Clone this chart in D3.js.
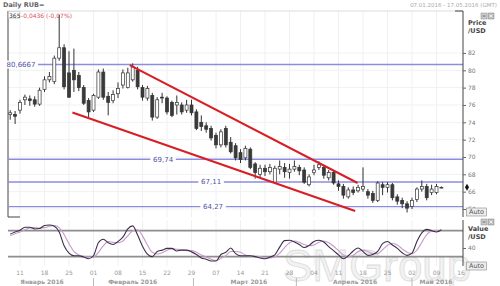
<!DOCTYPE html>
<html>
<head>
<meta charset="utf-8">
<script src="https://cdn.jsdelivr.net/npm/d3@7"></script>
<style>
  body { margin: 0; background: #fff; }
  svg { display: block; font-family: "DejaVu Sans", Verdana, sans-serif; }
</style>
</head>
<body>
<svg id="chart" width="500" height="286"></svg>
<script>
// trading day index 0 = 07.01.2016 (weekdays only)
var openVals = [74.9,74.9,75.4,76.6,76.7,76.6,76.1,77.8,78.9,78.7,
  81.4,82.6,79.7,80.0,79.4,78.0,76.5,75.4,76.9,79.8,
  77.0,76.5,77.3,78.3,78.0,78.9,80.0,78.0,76.8,77.1,
  74.6,76.9,76.8,76.3,76.0,76.0,75.4,76.0,75.2,74.0,
  73.6,73.3,72.5,71.4,73.3,71.7,71.3,70.5,69.9,70.9,
  69.2,68.0,68.7,68.3,67.1,68.6,68.8,68.2,68.6,68.8,
  68.5,66.8,68.2,68.8,68.8,67.6,68.2,66.9,66.6,65.4,
  66.2,66.1,66.3,66.0,65.8,65.0,66.8,66.5,66.8,65.4,
  65.0,64.6,64.3,65.1,66.3,66.6,65.9,65.9,66.5];
var highVals = [75.4,75.3,76.6,77.2,77.1,77.0,78.0,79.3,79.8,81.7,
  86.4,83.0,82.2,82.5,79.8,78.3,76.8,77.3,80.1,80.2,
  77.5,77.7,78.6,80.1,80.3,80.8,80.4,78.3,78.2,77.4,
  76.9,77.4,77.0,76.5,77.1,76.3,76.6,76.6,75.5,74.8,
  74.0,73.6,72.8,73.2,73.6,72.3,71.6,70.9,71.3,71.1,
  69.4,69.1,69.1,69.2,69.0,69.6,69.3,69.2,69.6,69.1,
  68.8,68.0,69.1,69.5,69.0,68.5,68.4,67.3,66.9,66.5,
  66.6,66.8,68.8,66.3,66.1,67.2,67.1,67.1,67.0,65.7,
  65.3,64.9,65.3,66.5,67.3,66.9,66.8,66.9,66.6];
var lowVals = [74.3,73.8,75.0,76.0,75.9,75.8,75.9,77.5,78.6,78.4,
  81.1,77.8,76.8,77.5,77.6,76.0,74.6,75.2,76.7,76.6,
  74.8,76.2,76.8,77.9,77.9,78.7,77.8,76.5,76.5,74.2,
  74.4,76.2,74.9,74.6,74.9,74.9,75.1,74.8,73.1,73.0,
  72.8,71.9,71.0,71.1,71.1,70.4,69.6,69.3,69.6,68.6,
  67.5,67.7,67.8,68.0,66.9,68.0,67.6,67.5,68.3,67.9,
  66.9,66.6,67.9,68.5,67.5,67.3,66.8,66.1,65.2,65.2,
  65.6,65.9,66.0,65.2,64.7,64.8,65.6,65.9,65.0,64.5,
  64.1,63.6,64.0,64.8,66.0,65.0,65.6,65.7,66.4];
var closeVals = [75.1,74.7,76.3,76.9,76.5,76.1,77.7,78.9,79.3,81.4,
  82.6,78.1,76.9,78.9,78.0,76.2,75.2,77.1,79.8,76.9,
  76.3,77.2,77.9,79.7,79.7,80.4,78.1,76.9,77.9,74.6,
  76.6,76.8,75.2,74.8,76.3,75.2,76.0,75.1,73.3,73.5,
  73.2,72.2,71.4,72.9,71.4,70.6,69.9,69.7,71.0,68.8,
  68.2,68.7,68.3,68.8,68.7,68.9,68.3,68.6,68.9,68.4,
  67.1,67.7,68.5,69.1,67.9,68.2,67.0,66.6,65.6,66.2,
  65.9,66.5,66.6,65.6,65.0,67.0,66.5,66.8,65.3,64.9,
  64.6,64.1,65.0,66.3,66.6,65.3,66.3,66.6,66.5];

// stochastic oscillator (%K dark, %D light)
var stochK = [72,77,81,88,88,84,85,92,93,90,
  77,45,28,22,22,19,15,22,52,60,
  52,48,55,65,84,91,70,44,26,20,
  32,35,39,39,33,35,35,31,25,17,
  14,10,10,25,30,40,27,22,22,22,
  20,17,15,19,24,42,57,58,54,48,
  41,46,55,58,54,43,34,24,15,22,
  33,40,32,23,25,32,50,55,47,39,
  29,23,28,55,75,83,80,77,82];
var stochD = [68,73,77,82,86,87,86,87,90,92,
  87,71,50,32,24,21,19,19,30,45,
  55,53,52,56,68,80,82,68,47,30,
  26,29,35,38,37,36,34,34,30,24,
  19,14,11,16,22,32,32,30,24,22,
  21,20,17,17,19,28,41,52,56,53,
  48,45,47,53,56,52,44,34,24,20,
  23,32,35,32,27,27,36,46,51,47,
  38,30,27,35,53,71,79,80,80];

// weekly ticks (Mondays) as trading-day index
var tickIndex = [2,7,12,17,22,27,32,37,42,47,52,57,62,67,72,77,82,87,92];
var tickLabels = ["11","18","25","01","08","15","22","29","07","14","21","28","04","11","18","25","02","09","16"];
var monthLabels = ["Январь 2016","Февраль 2016","Март 2016","Апрель 2016","Май 2016"];
var monthAt = [6.5, 25, 48.7, 70.4, 86.9];
var monthStart = [17, 37.4, 58.4, 82];

var priceTicks = [82,80,78,76,74,72,70,68,66,64];
var levelVals = [80.6667, 69.74, 67.11, 64.27];
var levelLabels = ["80,6667","69,74","67,11","64,27"];
var levelLabelAt = [2.2, 31.2, 41, 41.4];

var upperTrend = [[24.4, 80.6], [70.9, 67.0]];
var lowerTrend = [[12.7, 75.13], [70.4, 63.77]];

var stochLevels = [80, 20];
var stochTicks = [40];

var svg = d3.select("#chart");

var panel = { left: 8, right: 463, top: 11, bottom: 217 };
var lower = { top: 220, bottom: 266 };

var xScale = d3.scaleLinear().domain([0, 92]).range([10.2, 461]);
var yScale = d3.scaleLinear().domain([80, 64]).range([70.3, 209]);
var sScale = d3.scaleLinear().domain([0, 100]).range([265.3, 222]);

// header
svg.append("text").attr("x", 3).attr("y", 7).attr("font-size", 6.5)
  .attr("font-weight", "bold").attr("fill", "#666").text("Daily RUB=");
svg.append("text").attr("x", 497).attr("y", 7).attr("font-size", 5.5)
  .attr("text-anchor", "end").attr("fill", "#aaa").text("07.01.2016 - 17.05.2016 (GMT)");

// grid
var grid = svg.append("g");
grid.selectAll(".vg").data(tickIndex.filter(d => d < 92)).enter().append("line")
  .attr("x1", d => xScale(d)).attr("x2", d => xScale(d))
  .attr("y1", panel.top).attr("y2", panel.bottom)
  .attr("stroke", "#eef0f3").attr("stroke-width", 1);
grid.selectAll(".hg").data(priceTicks).enter().append("line")
  .attr("x1", panel.left).attr("x2", panel.right)
  .attr("y1", d => yScale(d)).attr("y2", d => yScale(d))
  .attr("stroke", "#f1f1f1").attr("stroke-width", 1);
grid.selectAll(".vg2").data(tickIndex.filter(d => d < 92)).enter().append("line")
  .attr("x1", d => xScale(d)).attr("x2", d => xScale(d))
  .attr("y1", lower.top).attr("y2", lower.bottom)
  .attr("stroke", "#eef0f3").attr("stroke-width", 1);

// frames
svg.append("line").attr("x1", panel.left).attr("x2", panel.right)
  .attr("y1", panel.top).attr("y2", panel.top).attr("stroke", "#ddd");
svg.append("line").attr("x1", panel.left).attr("x2", panel.left)
  .attr("y1", panel.top).attr("y2", panel.bottom).attr("stroke", "#444");
svg.append("line").attr("x1", panel.left).attr("x2", panel.left + 12)
  .attr("y1", panel.bottom).attr("y2", panel.bottom).attr("stroke", "#444");
svg.append("line").attr("x1", panel.right - 8).attr("x2", panel.right)
  .attr("y1", panel.top).attr("y2", panel.top).attr("stroke", "#444");

// current-quote text
svg.append("rect").attr("x", 8.5).attr("y", 11.5).attr("width", 11).attr("height", 7)
  .attr("fill", "#fff").attr("stroke", "#bbb").attr("stroke-width", 0.5);
svg.append("text").attr("x", 9).attr("y", 17.5).attr("font-size", 6).attr("fill", "#333").text("365");
svg.append("text").attr("x", 21).attr("y", 17.5).attr("font-size", 6).attr("fill", "#e0505a")
  .text("-0,0436 (-0,07%)");

// level lines
var levels = svg.append("g");
levels.selectAll("line").data(levelVals).enter().append("line")
  .attr("x1", panel.left).attr("x2", panel.right)
  .attr("y1", d => yScale(d)).attr("y2", d => yScale(d))
  .attr("stroke", "#8c8ce0").attr("stroke-width", 1.4);
levelVals.forEach(function(v, i) {
  var cx = xScale(levelLabelAt[i]);
  var w = levelLabels[i].length * 4.3 + 4;
  levels.append("rect").attr("x", cx - w / 2).attr("y", yScale(v) - 4)
    .attr("width", w).attr("height", 8).attr("fill", "#fff");
  levels.append("text").attr("x", cx).attr("y", yScale(v) + 2.4)
    .attr("text-anchor", "middle").attr("font-size", 7).attr("fill", "#5050a8")
    .text(levelLabels[i]);
});

// candles
var candles = svg.append("g").selectAll("g").data(openVals).enter().append("g");
candles.append("line")
  .attr("x1", (d, i) => xScale(i)).attr("x2", (d, i) => xScale(i))
  .attr("y1", (d, i) => yScale(highVals[i])).attr("y2", (d, i) => yScale(lowVals[i]))
  .attr("stroke", "#333").attr("stroke-width", 1);
candles.append("rect")
  .attr("x", (d, i) => xScale(i) - 1.5)
  .attr("y", (d, i) => yScale(Math.max(d, closeVals[i])))
  .attr("width", 3)
  .attr("height", (d, i) => Math.max(0.8, Math.abs(yScale(d) - yScale(closeVals[i]))))
  .attr("fill", (d, i) => closeVals[i] >= d ? "#fff" : "#3a3a3a")
  .attr("stroke", "#333").attr("stroke-width", 0.7);

// trend lines
var trendLine = d3.line().x(d => xScale(d[0])).y(d => yScale(d[1]));
[upperTrend, lowerTrend].forEach(function(t) {
  svg.append("path").attr("d", trendLine(t)).attr("fill", "none")
    .attr("stroke", "#d81e24").attr("stroke-width", 2);
});

// price axis
var yAxis = d3.axisRight(yScale).tickValues(priceTicks).tickSize(3).tickPadding(2)
  .tickFormat(d3.format("d"));
var ya = svg.append("g").attr("transform", `translate(${panel.right},0)`).call(yAxis);
ya.select(".domain").attr("stroke", "#444").attr("d", `M0,${panel.top}V${panel.bottom}`);
ya.selectAll(".tick line").attr("stroke", "#666");
ya.selectAll(".tick text").attr("font-size", 6).attr("fill", "#777")
  .attr("font-family", "DejaVu Sans");

svg.append("text").attr("x", 468).attr("y", 25).attr("font-size", 6.5).attr("font-weight", "bold")
  .attr("fill", "#444").text("Price");
svg.append("text").attr("x", 468).attr("y", 33).attr("font-size", 6.5).attr("font-weight", "bold")
  .attr("fill", "#444").text("/USD");
svg.append("path").attr("d", d3.symbol(d3.symbolDiamond, 14)())
  .attr("transform", `translate(467,${yScale(closeVals[closeVals.length - 1])})`).attr("fill", "#111");

function buttons(y) {
  svg.append("rect").attr("x", 481).attr("y", y).attr("width", 6).attr("height", 6)
    .attr("fill", "#ccc").attr("stroke", "#888").attr("stroke-width", 0.5);
  svg.append("rect").attr("x", 488).attr("y", y).attr("width", 6).attr("height", 6)
    .attr("fill", "#bbb").attr("stroke", "#888").attr("stroke-width", 0.5);
  svg.append("line").attr("x1", 482.5).attr("x2", 485.5).attr("y1", y + 3).attr("y2", y + 3)
    .attr("stroke", "#555").attr("stroke-width", 0.8);
  svg.append("path").attr("d", `M489.5,${y + 1.5}l3,3M492.5,${y + 1.5}l-3,3`)
    .attr("stroke", "#fff").attr("stroke-width", 0.8);
}
buttons(13);
buttons(219);

function autoBtn(y) {
  svg.append("rect").attr("x", 466.5).attr("y", y).attr("width", 20).attr("height", 8)
    .attr("fill", "#eee").attr("stroke", "#888").attr("stroke-width", 0.6);
  svg.append("text").attr("x", 476.5).attr("y", y + 6.3).attr("text-anchor", "middle")
    .attr("font-size", 6.5).attr("fill", "#555").text("Auto");
}
autoBtn(208);

// watermark
svg.append("text").attr("x", 283).attr("y", 281).attr("font-size", 44)
  .attr("font-family", "Arial, Liberation Sans, sans-serif")
  .attr("fill", "#f2f2f2").attr("stroke", "#dcdcdc").attr("stroke-width", 0.8)
  .text("SMGroup");

// stochastic panel
svg.selectAll(".slev").data(stochLevels).enter().append("line")
  .attr("x1", panel.left).attr("x2", panel.right)
  .attr("y1", d => sScale(d)).attr("y2", d => sScale(d))
  .attr("stroke", "#8e8e8e").attr("stroke-width", 1.6);

var sLine = d3.line().x((d, i) => xScale(i)).y(d => sScale(d)).curve(d3.curveMonotoneX);
svg.append("path").attr("d", sLine(stochD)).attr("fill", "none")
  .attr("stroke", "#c79ac9").attr("stroke-width", 1.1);
svg.append("path").attr("d", sLine(stochK)).attr("fill", "none")
  .attr("stroke", "#3b3049").attr("stroke-width", 1.1);

var sAxis = d3.axisRight(sScale).tickValues(stochTicks).tickSize(3).tickPadding(2);
var sa = svg.append("g").attr("transform", `translate(${panel.right},0)`).call(sAxis);
sa.select(".domain").attr("stroke", "#444").attr("d", `M0,${lower.top}V${lower.bottom}`);
sa.selectAll(".tick line").attr("stroke", "#666");
sa.selectAll(".tick text").attr("font-size", 6).attr("fill", "#777").attr("font-family", "DejaVu Sans");

svg.append("text").attr("x", 468).attr("y", 231).attr("font-size", 6.5).attr("font-weight", "bold")
  .attr("fill", "#444").text("Value");
svg.append("text").attr("x", 468).attr("y", 239).attr("font-size", 6.5).attr("font-weight", "bold")
  .attr("fill", "#444").text("/USD");
autoBtn(262);

// x axis
var xa = svg.append("g");
xa.selectAll("text").data(tickIndex).enter().append("text")
  .attr("x", d => xScale(d)).attr("y", 275).attr("text-anchor", "middle")
  .attr("font-size", 6).attr("fill", "#999")
  .text((d, i) => tickLabels[i]);
xa.selectAll(".mon").data(monthLabels).enter().append("text")
  .attr("x", (d, i) => xScale(monthAt[i])).attr("y", 284).attr("text-anchor", "middle")
  .attr("font-size", 6).attr("font-weight", "bold").attr("fill", "#999")
  .text(d => d);
xa.selectAll(".sep").data(monthStart).enter().append("line")
  .attr("x1", d => xScale(d)).attr("x2", d => xScale(d))
  .attr("y1", 278).attr("y2", 286).attr("stroke", "#aaa").attr("stroke-width", 0.8);
</script>
</body>
</html>
